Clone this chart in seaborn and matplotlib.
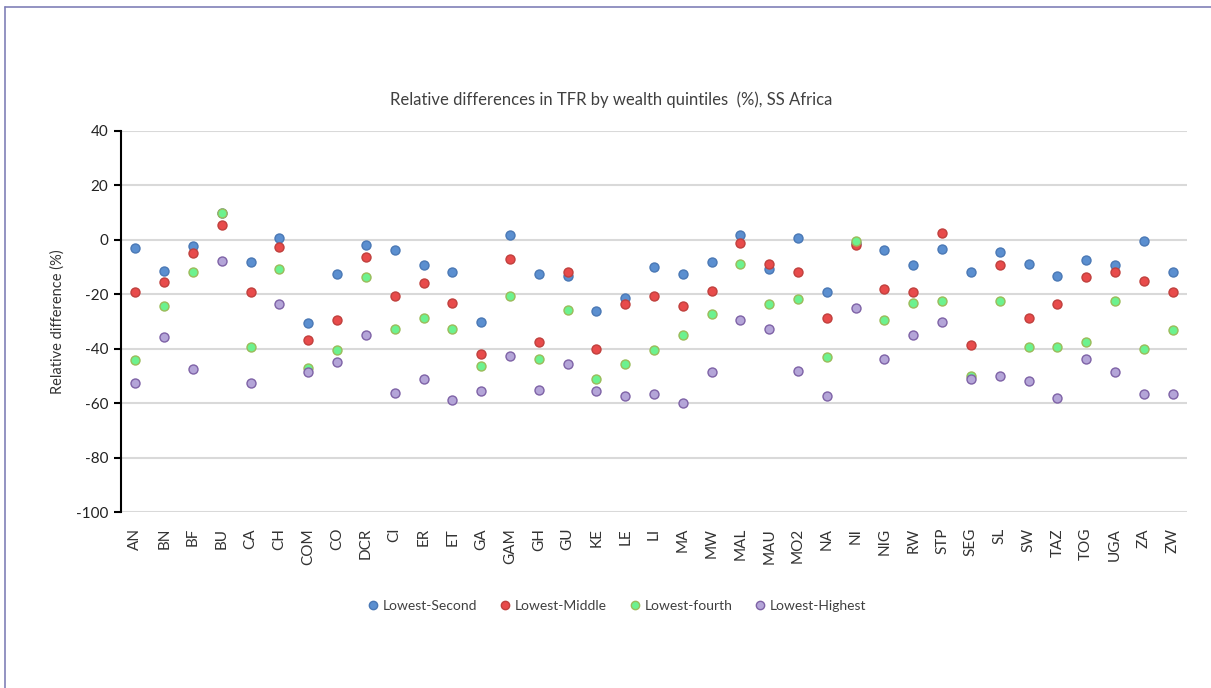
import pandas as pd
import matplotlib.pyplot as plt
import seaborn as sns
from matplotlib.lines import Line2D

countries = ["AN", "BN", "BF", "BU", "CA", "CH", "COM", "CO", "DCR", "CI", "ER", "ET", "GA",
             "GAM", "GH", "GU", "KE", "LE", "LI", "MA", "MW", "MAL", "MAU", "MO2", "NA", "NI",
             "NIG", "RW", "STP", "SEG", "SL", "SW", "TAZ", "TOG", "UGA", "ZA", "ZW"]

lowest_second = [-3.1, -11.3, -2.4, 10.0, -8.2, 0.6, -30.6, -12.5, -1.8, -3.8, -9.4, -11.9, -30.0,
                 1.8, -12.5, -13.2, -26.2, -21.3, -10.0, -12.5, -8.2, 1.8, -10.6, 0.6, -19.3, -1.0,
                 -3.8, -9.3, -3.2, -11.9, -4.4, -8.8, -13.1, -7.5, -9.4, -0.6, -11.9]
lowest_middle = [-19.3, -15.5, -5.0, 5.6, -19.3, -2.6, -36.8, -29.4, -6.2, -20.6, -15.7, -23.1, -41.9,
                 -6.9, -37.5, -11.9, -40.0, -23.7, -20.6, -24.4, -18.7, -1.3, -8.8, -11.9, -28.8, -2.0,
                 -18.1, -19.3, 2.4, -38.8, -9.4, -28.8, -23.7, -13.7, -11.9, -15.1, -19.3]
lowest_fourth = [-44.3, -24.4, -11.9, 9.9, -39.4, -10.6, -47.2, -40.6, -13.7, -32.6, -28.8, -32.6, -46.3,
                 -20.6, -43.7, -25.6, -51.2, -45.7, -40.6, -35.0, -27.4, -8.8, -23.7, -21.9, -43.1, -0.6,
                 -29.4, -23.1, -22.5, -49.9, -22.5, -39.4, -39.4, -37.5, -22.5, -40.0, -33.2]
lowest_highest = [-52.5, -35.6, -47.5, -7.6, -52.5, -23.7, -48.7, -45.0, -35.0, -56.2, -51.2, -58.8, -55.6,
                  -42.5, -55.0, -45.7, -55.6, -57.5, -56.8, -60.0, -48.7, -29.4, -32.6, -48.1, -57.5, -25.0,
                  -43.7, -35.0, -30.0, -51.2, -49.9, -51.9, -58.1, -43.7, -48.7, -56.8, -56.8]

series = ["Lowest-Second", "Lowest-Middle", "Lowest-fourth", "Lowest-Highest"]
face_colors = ["#5B8FD0", "#E84B4B", "#6CF28F", "#B4A5D8"]
edge_colors = ["#4A78B5", "#C0403D", "#9BBB59", "#7E62A6"]

df = pd.DataFrame({"country": countries,
                   "Lowest-Second": lowest_second,
                   "Lowest-Middle": lowest_middle,
                   "Lowest-fourth": lowest_fourth,
                   "Lowest-Highest": lowest_highest})
long_df = df.melt(id_vars="country", var_name="series", value_name="value")

sns.set_style("white")
plt.rcParams['font.family'] = ['Lato', 'DejaVu Sans']
plt.rcParams['axes.unicode_minus'] = False

fig = plt.figure(figsize=(12.11, 6.88), dpi=100)
ax = fig.add_axes([0.0999, 0.2558, 0.8803, 0.5538])

# one call per series so each gets its own edge colour
for name, fc, ec in zip(series, face_colors, edge_colors):
    sub = long_df[long_df["series"] == name]
    sns.scatterplot(data=sub, x="country", y="value", ax=ax, color=fc,
                    edgecolor=ec, linewidth=1.0, s=42, zorder=3)

ax.set_xlim(-0.5, len(countries) - 0.5)
ax.set_ylim(-100, 40)
ax.set_yticks(range(-100, 41, 20))
ax.yaxis.grid(True, color="#d9d9d9", linewidth=1.5)
ax.set_axisbelow(True)

for side in ["top", "right", "bottom"]:
    ax.spines[side].set_visible(False)
ax.spines["left"].set_color("black")
ax.spines["left"].set_linewidth(1.5)

ax.tick_params(axis="y", which="major", left=True, length=5, width=1.5, color="black",
               labelsize=11, labelcolor="#222222", pad=4)
ax.tick_params(axis="x", bottom=False, labelsize=11, labelcolor="#333333", pad=8)
plt.setp(ax.get_xticklabels(), rotation=90)

ax.set_xlabel("")
ax.set_ylabel("Relative difference (%)", fontsize=10.5, color="#333333", labelpad=8)
fig.text(0.505, 0.855, "Relative differences in TFR by wealth quintiles  (%), SS Africa",
         ha="center", va="center", fontsize=12, color="#404040")

handles = [Line2D([0], [0], marker="o", linestyle="", markersize=6,
                  markerfacecolor=fc, markeredgecolor=ec, label=name)
           for name, fc, ec in zip(series, face_colors, edge_colors)]
fig.legend(handles=handles, loc="center", bbox_to_anchor=(0.509, 0.119), ncol=4,
           frameon=False, fontsize=10, handlelength=1.0, handletextpad=0.2,
           columnspacing=1.5, labelcolor="#404040")

# outer chart border (only left and top edges show in the reference)
fig.add_artist(Line2D([0.0045, 0.0045], [0, 0.99], transform=fig.transFigure,
                      color="#8080b8", linewidth=1.2))
fig.add_artist(Line2D([0.0045, 1.0], [0.99, 0.99], transform=fig.transFigure,
                      color="#8080b8", linewidth=1.2))

fig.savefig("out.png", dpi=100)
